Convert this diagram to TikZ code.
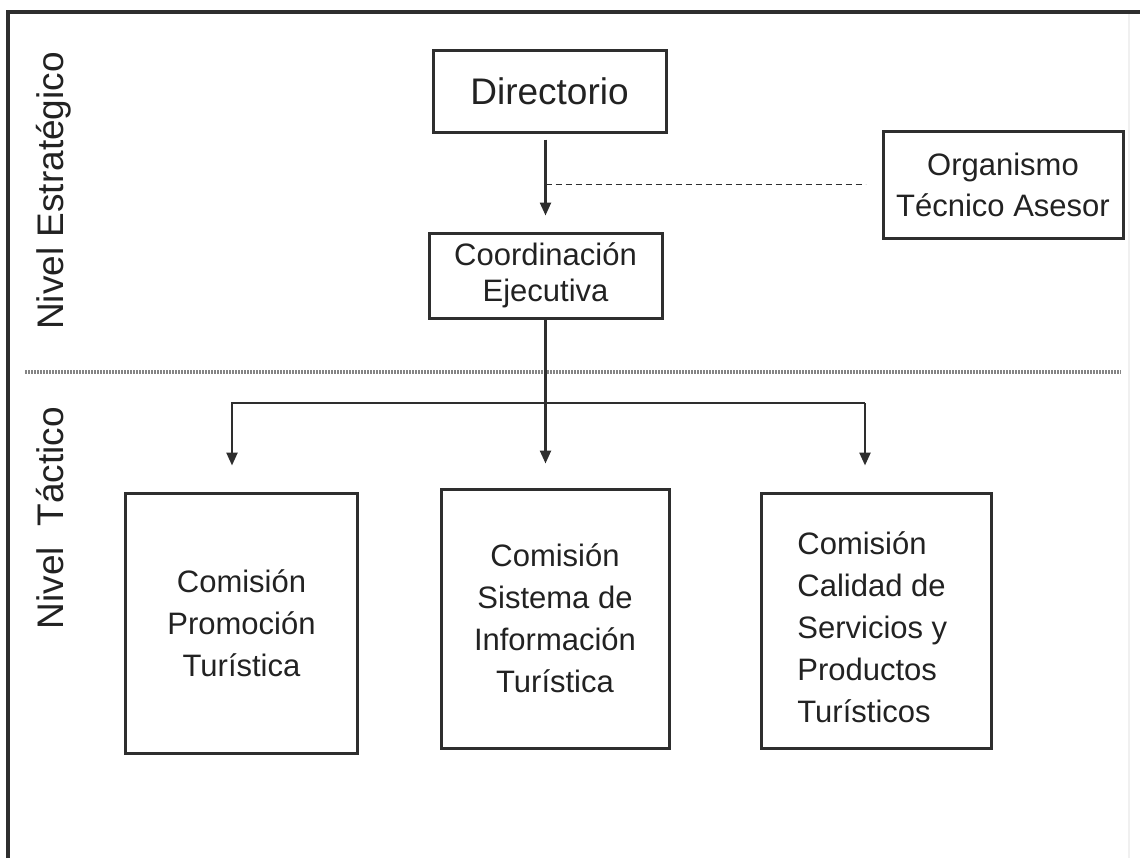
\documentclass[tikz,border=0pt]{standalone}
\usepackage{fontspec}
\setmainfont{Liberation Sans}
\usetikzlibrary{arrows.meta}
\definecolor{ink}{HTML}{2E2E2E}
\definecolor{txt}{HTML}{222222}
\definecolor{sepc}{HTML}{858585}
\tikzset{
  box/.style={draw=ink, line width=1.5pt, rectangle, inner sep=0pt, text=txt, align=center},
  boxtext/.style={font=\fontsize{15.5}{21}\selectfont},
  ln/.style={draw=ink, line width=1.2pt},
  arr/.style={-{Triangle[length=6.5pt,width=5.5pt]}},
  dashln/.style={draw=ink, line width=0.9pt, dash pattern=on 3pt off 2pt},
  sepline/.style={draw=sepc, line width=1.6pt, dash pattern=on 1pt off 0.5pt},
  lvl/.style={text=txt, font=\fontsize{18.5}{22}\selectfont, rotate=90, anchor=base, inner sep=0pt},
  frameline/.style={draw=ink, line width=1.6pt}
}
\begin{document}
\begin{tikzpicture}[x=0.5pt, y=-0.5pt]
\useasboundingbox (0,0) rectangle (1140,858);
% frame
\draw[frameline] (8,858) -- (8,12) -- (1140,12);
\draw[gray!12, line width=0.8pt] (1129,14) -- (1129,858);
% level labels
\node[lvl] (lvlE) at (63,191) {Nivel Estratégico};
\node[lvl] (lvlT) at (63,518) {Nivel\ \ Táctico};
% separator
\coordinate (sepL) at (25,372);
\coordinate (sepR) at (1121,372);
\draw[sepline] (sepL) -- (sepR);
% boxes
\node[box, minimum width=116.5pt, minimum height=41pt, font=\fontsize{18.5}{22}\selectfont] (dir) at (549.5,91) {Directorio};
\node[box, boxtext, minimum width=116.5pt, minimum height=42.5pt, font=\fontsize{15.5}{18}\selectfont] (coord) at (545.5,275.5) {Coordinación\\Ejecutiva};
\node[box, boxtext, minimum width=120pt, minimum height=53.5pt, font=\fontsize{15.5}{20.5}\selectfont] (org) at (1003,184.5) {Organismo\\Técnico Asesor};
\node[box, boxtext, minimum width=116pt, minimum height=130pt] (c1) at (241.5,623) {Comisión\\Promoción\\Turística};
\node[box, boxtext, minimum width=114pt, minimum height=129.5pt] (c2) at (555,618.5) {Comisión\\Sistema de\\Información\\Turística};
\node[box, minimum width=115pt, minimum height=127.5pt] (c3) at (876,620.5) {};
\node[boxtext, text=txt, align=left, anchor=west, inner sep=0pt] (c3t) at (797,627) {Comisión\\Calidad de\\Servicios y\\Productos\\Turísticos};
% connectors
\draw[ln, arr, shorten <=3pt, shorten >=8pt] (dir.south -| coord.north) -- (coord.north);
\draw[dashln] (org.west -| coord.north) -- ([xshift=-8pt]org.west);
\coordinate (bL) at (232,403);
\coordinate (bR) at (865,403);
\draw[ln, arr, shorten >=12pt] (coord.south) -- (coord.south |- c2.north);
\draw[ln, arr, shorten >=13pt] (bR) -- (bL) -- (bL |- c1.north);
\draw[ln, arr, shorten >=13pt] (bR) -- (bR |- c3.north);
\end{tikzpicture}
\end{document}
